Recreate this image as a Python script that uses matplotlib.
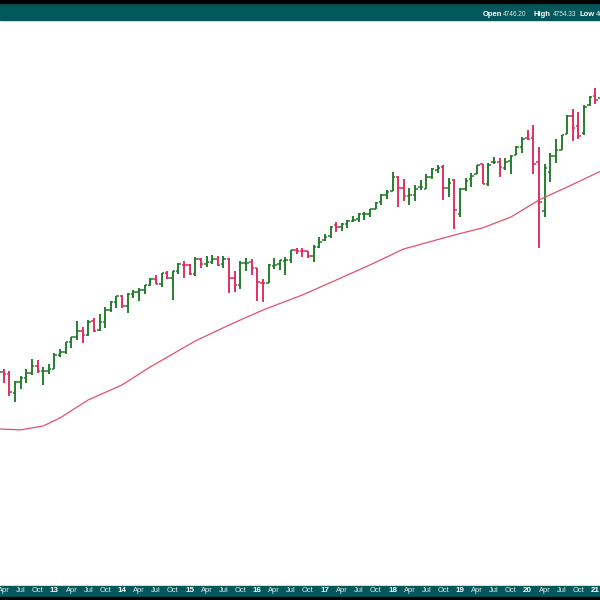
import numpy as np
import pandas as pd
import matplotlib
matplotlib.use('Agg')
import matplotlib.pyplot as plt
from matplotlib.patches import Rectangle
from matplotlib.transforms import blended_transform_factory

plt.rcParams['font.family'] = ['Liberation Sans', 'DejaVu Sans']

# monthly S&P 500 bars, Jan 2012 .. Feb 2021
months = pd.date_range('2012-01-01', '2021-02-01', freq='MS')

opens = [1258.86, 1312.45, 1365.90, 1408.47, 1397.86, 1309.87, 1362.33, 1379.32, 1406.54, 1440.90, 1412.20, 1416.18,
         1426.19, 1498.11, 1514.68, 1569.18, 1597.55, 1631.71, 1609.78, 1689.42, 1635.95, 1682.41, 1758.70, 1806.55,
         1845.86, 1782.68, 1857.68, 1873.96, 1884.39, 1923.87, 1962.29, 1929.80, 2004.07, 1971.44, 2018.21, 2065.78,
         2058.90, 1996.67, 2105.23, 2067.63, 2087.38, 2108.64, 2067.00, 2104.49, 1970.09, 1919.65, 2080.76, 2082.93,
         2038.20, 1936.94, 1937.09, 2056.62, 2067.17, 2093.94, 2099.34, 2173.15, 2171.33, 2164.33, 2128.68, 2200.17,
         2251.57, 2285.59, 2380.13, 2362.34, 2388.50, 2415.65, 2431.39, 2477.10, 2474.42, 2521.20, 2583.21, 2645.10,
         2683.73, 2816.45, 2715.22, 2633.45, 2642.96, 2718.70, 2704.95, 2821.17, 2896.96, 2926.29, 2717.58, 2790.50,
         2476.96, 2702.32, 2798.22, 2848.63, 2952.33, 2751.53, 2971.41, 2980.32, 2909.01, 2983.69, 3050.72, 3143.85,
         3244.67, 3235.66, 2974.28, 2498.08, 2869.09, 3038.78, 3105.92, 3288.26, 3507.44, 3385.87, 3296.20, 3645.87,
         3764.61, 3731.17]
highs = [1333.47, 1378.04, 1419.15, 1422.38, 1415.32, 1363.46, 1391.74, 1426.68, 1474.51, 1470.96, 1434.27, 1448.00,
         1509.94, 1530.94, 1570.28, 1597.57, 1687.18, 1654.19, 1698.78, 1709.67, 1729.86, 1775.22, 1813.55, 1849.44,
         1850.84, 1867.92, 1883.97, 1897.28, 1924.03, 1968.17, 1991.39, 2005.04, 2019.26, 2018.19, 2075.76, 2093.55,
         2072.36, 2119.59, 2117.52, 2125.92, 2134.72, 2129.87, 2132.82, 2112.66, 2020.86, 2094.32, 2116.48, 2104.27,
         2038.20, 1962.96, 2072.21, 2111.05, 2099.73, 2120.55, 2177.09, 2193.81, 2187.87, 2169.60, 2214.10, 2277.53,
         2300.99, 2371.54, 2400.98, 2398.16, 2418.71, 2453.82, 2484.04, 2490.87, 2519.44, 2582.98, 2657.74, 2694.97,
         2872.87, 2835.96, 2801.90, 2717.49, 2742.24, 2791.47, 2848.03, 2916.50, 2940.91, 2939.86, 2815.15, 2800.18,
         2708.95, 2813.49, 2860.31, 2949.52, 2954.13, 2964.15, 3027.98, 3013.59, 3021.99, 3050.10, 3154.26, 3247.93,
         3337.77, 3393.52, 3136.72, 2954.86, 3068.67, 3233.13, 3279.99, 3514.77, 3588.11, 3549.85, 3645.99, 3760.20,
         3870.90, 3950.43]
lows = [1258.86, 1312.45, 1340.03, 1357.38, 1291.98, 1266.74, 1325.41, 1354.65, 1396.56, 1403.28, 1343.35, 1398.11,
        1426.19, 1485.01, 1501.48, 1536.03, 1581.28, 1560.33, 1604.57, 1627.47, 1633.41, 1646.47, 1746.20, 1767.99,
        1770.45, 1737.92, 1834.44, 1814.36, 1859.79, 1915.98, 1930.67, 1904.78, 1964.04, 1820.66, 2001.01, 1972.56,
        1988.12, 1980.90, 2039.69, 2048.38, 2067.93, 2056.32, 2044.02, 1867.01, 1871.91, 1893.70, 2019.39, 1993.26,
        1812.29, 1810.10, 1937.09, 2033.80, 2025.91, 1991.68, 2074.02, 2147.58, 2119.12, 2114.72, 2083.79, 2187.44,
        2245.13, 2271.65, 2322.25, 2328.95, 2352.72, 2405.70, 2407.70, 2417.35, 2446.55, 2520.40, 2557.45, 2605.52,
        2682.36, 2532.69, 2585.89, 2553.80, 2594.62, 2691.99, 2698.95, 2796.34, 2864.12, 2603.54, 2631.09, 2346.58,
        2443.96, 2681.83, 2722.27, 2848.63, 2750.52, 2728.81, 2952.22, 2822.12, 2891.85, 2855.94, 3050.72, 3070.33,
        3214.64, 2855.84, 2191.86, 2447.49, 2766.64, 2965.66, 3101.17, 3284.53, 3209.45, 3233.94, 3279.74, 3633.40,
        3662.71, 3725.62]
closes = [1312.41, 1365.68, 1408.47, 1397.91, 1310.33, 1362.16, 1379.32, 1406.58, 1440.67, 1412.16, 1416.18, 1426.19,
          1498.11, 1514.68, 1569.19, 1597.57, 1630.74, 1606.28, 1685.73, 1632.97, 1681.55, 1756.54, 1805.81, 1848.36,
          1782.59, 1859.45, 1872.34, 1883.95, 1923.57, 1960.23, 1930.67, 2003.37, 1972.29, 2018.05, 2067.56, 2058.90,
          1994.99, 2104.50, 2067.89, 2085.51, 2107.39, 2063.11, 2103.84, 1972.18, 1920.03, 2079.36, 2080.41, 2043.94,
          1940.24, 1932.23, 2059.74, 2065.30, 2096.95, 2098.86, 2173.60, 2170.95, 2168.27, 2126.15, 2198.81, 2238.83,
          2278.87, 2363.64, 2362.72, 2384.20, 2411.80, 2423.41, 2470.30, 2471.65, 2519.36, 2575.26, 2647.58, 2673.61,
          2823.81, 2713.83, 2640.87, 2648.05, 2705.27, 2718.37, 2816.29, 2901.52, 2913.98, 2711.74, 2760.17, 2506.85,
          2704.10, 2784.49, 2834.40, 2945.83, 2752.06, 2941.76, 2980.38, 2926.46, 2976.74, 3037.56, 3140.98, 3230.78,
          3225.52, 2954.22, 2584.59, 2912.43, 3044.31, 3100.29, 3271.12, 3500.31, 3363.00, 3269.96, 3621.63, 3756.07,
          3714.24, 3811.15]

# moving average line
ma_dates = ['2012-02', '2012-07', '2012-11', '2013-02', '2013-07', '2014-01', '2014-06', '2015-02', '2015-08',
            '2016-02', '2016-09', '2017-03', '2017-09', '2018-03', '2018-08', '2018-12', '2019-05', '2019-10',
            '2020-03', '2020-08', '2021-02']
ma_values = [1152, 1147, 1163, 1197, 1276, 1346, 1435, 1574, 1666, 1757, 1854, 1955, 2063, 2184, 2245, 2295,
             2354, 2446, 2600, 2722, 2882]

header_text = [('Open', 'bold'), ('4746.20', 'normal'), ('High', 'bold'), ('4754.33', 'normal'),
               ('Low', 'bold'), ('4697.00', 'normal')]

TEAL = '#04585c'
GREEN = '#1f7a25'
RED = '#dc2a5a'

fig = plt.figure(figsize=(6, 6), dpi=100)
fig.patch.set_facecolor('white')

ax = fig.add_axes([0, 14 / 600, 1, 566 / 600])
ax.set_zorder(3)
ax.set_yscale('log')

x = np.arange(len(months))
o = np.array(opens)
h = np.array(highs)
l = np.array(lows)
c = np.array(closes)
prev = np.concatenate([[o[0]], c[:-1]])
colors = np.where(c >= prev, GREEN, RED)

tick = 0.45
ax.vlines(x, l, h, colors=colors, lw=1.35)
ax.hlines(o, x - tick, x, colors=colors, lw=1.1)
ax.hlines(c, x, x + tick, colors=colors, lw=1.1)

ma_x = [(pd.Timestamp(d).year - 2012) * 12 + pd.Timestamp(d).month - 1 for d in ma_dates]
ax.plot(ma_x, ma_values, color='#e2506e', lw=0.9)

ax.set_xlim(2.33, 108.83)
ax.set_ylim(658, 4933)
ax.axis('off')

# header band
fig.patches.append(Rectangle((0, 580 / 600), 1, 20 / 600, transform=fig.transFigure, color=TEAL, zorder=0))
fig.patches.append(Rectangle((0, 597 / 600), 1, 3 / 600, transform=fig.transFigure, color='black', zorder=1))
xpos = [483, 503, 533, 553, 580, 596]
for (t, w), xp in zip(header_text, xpos):
    bold = w == 'bold'
    fig.text(xp / 600, 1 - 15 / 600, t, color='white' if bold else '#d8e6e6',
             fontsize=5.5 if bold else 4.7, fontweight=w, ha='left', va='center')

# footer band with date labels
fig.patches.append(Rectangle((0, 3 / 600), 1, 11 / 600, transform=fig.transFigure, color=TEAL, zorder=0))
fig.patches.append(Rectangle((0, 0), 1, 3 / 600, transform=fig.transFigure, color='black', zorder=1))
trans = blended_transform_factory(ax.transData, fig.transFigure)
for i, m in enumerate(months):
    if m.month == 1:
        ax.text(i, 1 - 591 / 600, m.strftime('%y'), transform=trans, color='white', fontsize=5.8,
                fontweight='bold', ha='center', va='center', clip_on=False)
    elif m.month in (4, 7, 10):
        ax.text(i, 1 - 591 / 600, m.strftime('%b'), transform=trans, color='#e6eeee', fontsize=5.4,
                ha='center', va='center', clip_on=False)

fig.savefig('out.png', dpi=100)
